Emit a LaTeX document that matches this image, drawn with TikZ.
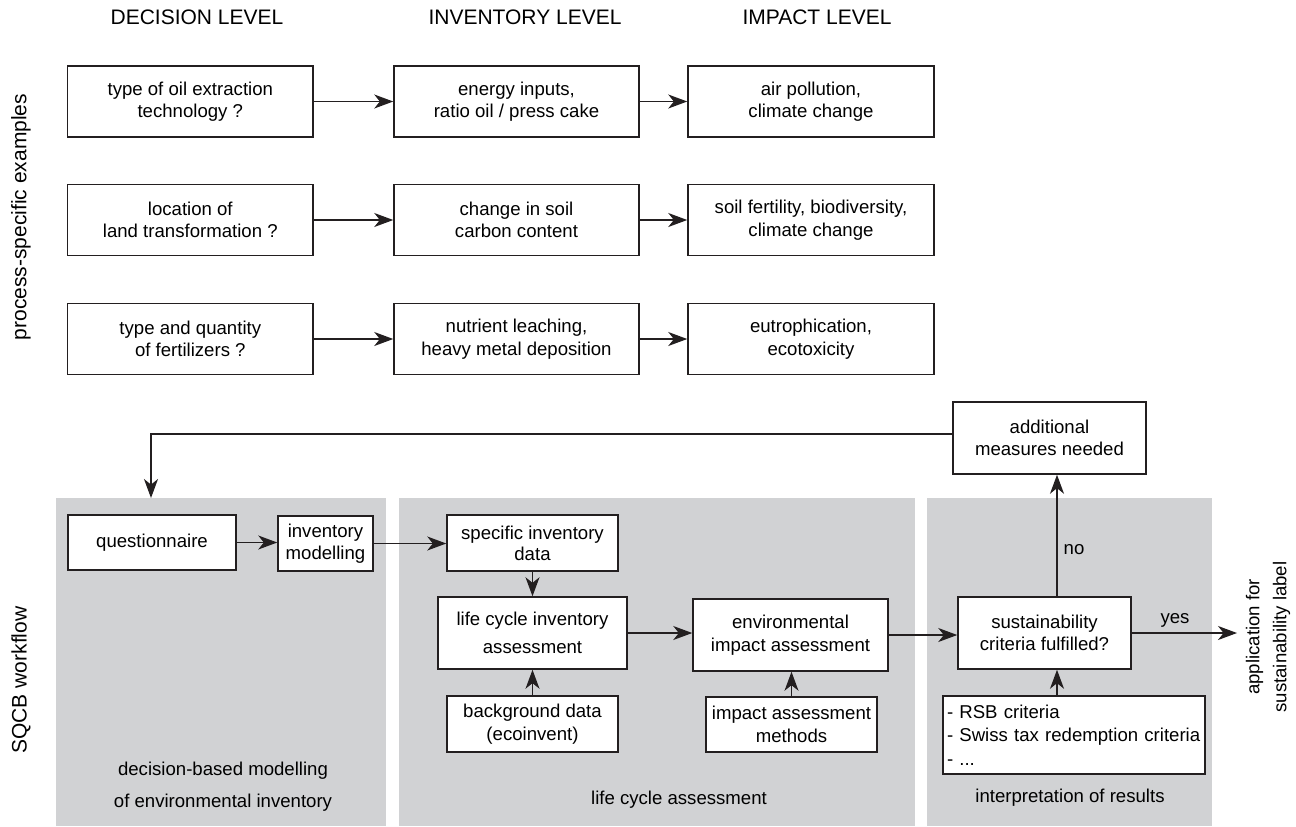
\documentclass[tikz,border=0pt]{standalone}
\usepackage{fontspec}
\setmainfont{Liberation Sans}
\usetikzlibrary{arrows.meta,calc}
\definecolor{panelgray}{RGB}{209,210,212}
\definecolor{ink}{RGB}{35,31,32}
\begin{document}
\begin{tikzpicture}[x=0.5pt,y=-0.5pt,
  box/.style={draw=ink,line width=0.75pt,fill=white,align=center,inner sep=1pt,
    font=\fontsize{9.3}{11.3}\selectfont},
  rowbox/.style={box,minimum height=35.5pt},
  arr/.style={draw=ink,line width=0.65pt,-{Stealth[length=9.5pt,width=7pt,inset=2.8pt]}},
  title/.style={font=\fontsize{10.5}{12.5}\selectfont,inner sep=0pt},
  lbl/.style={font=\fontsize{9.3}{11.3}\selectfont,inner sep=0pt,align=center},
  panel/.style={fill=panelgray,draw=none}]
\useasboundingbox (0,0) rectangle (1296,826);

% panels
\fill[panel] (56,498) rectangle (386,826);
\fill[panel] (399,498) rectangle (915,826);
\fill[panel] (927,498) rectangle (1212,826);

% titles
\node[title] (tdec) at (197,17) {DECISION LEVEL};
\node[title] (tinv) at (525,17) {INVENTORY LEVEL};
\node[title] (timp) at (817,17) {IMPACT LEVEL};
\node[title,rotate=90] (tpse) at (21,217) {process-specific examples};
\node[title,rotate=90] (tsqcb) at (21,680) {SQCB workflow};

% process-specific rows
\node[rowbox,minimum width=122.7pt] (d1) at (190.3,101.5) {type of oil extraction\\technology ?};
\node[rowbox,minimum width=122.5pt] (i1) at (516.5,101.5) {energy inputs,\\ratio oil / press cake};
\node[rowbox,minimum width=123pt] (m1) at (811,101.5) {air pollution,\\climate change};
\node[rowbox,minimum width=122.7pt] (d2) at (190.3,220) {location of\\land transformation ?};
\node[rowbox,minimum width=122.5pt] (i2) at (516.5,220) {change in soil\\carbon content};
\node[rowbox,minimum width=123pt] (m2) at (811,220) {soil fertility, biodiversity,\\climate change};
\node[rowbox,minimum width=122.7pt] (d3) at (190.3,339) {type and quantity\\of fertilizers ?};
\node[rowbox,minimum width=122.5pt] (i3) at (516.5,339) {nutrient leaching,\\heavy metal deposition};
\node[rowbox,minimum width=123pt] (m3) at (811,339) {eutrophication,\\ecotoxicity};
\foreach \r in {1,2,3}{
  \draw[arr] (d\r.east) -- (i\r.west);
  \draw[arr] (i\r.east) -- (m\r.west);
}

% workflow boxes
\node[box,minimum width=84pt,minimum height=27.5pt] (quest) at (152,542.5) {questionnaire};
\node[box,minimum width=47.5pt,minimum height=27.5pt] (invmod) at (325.5,543.5) {inventory\\modelling};
\node[box,minimum width=85.5pt,minimum height=28pt,font=\fontsize{9.3}{10.6}\selectfont] (spec) at (532.5,543) {specific inventory\\data};
\node[box,minimum width=94.5pt,minimum height=36pt,font=\fontsize{9.3}{14}\selectfont] (lci) at (532.5,633) {life cycle inventory\\assessment};
\node[box,minimum width=85.5pt,minimum height=28pt] (bg) at (532.5,724) {background data\\(ecoinvent)};
\node[box,minimum width=97.5pt,minimum height=36pt] (env) at (790.5,635) {environmental\\impact assessment};
\node[box,minimum width=85.5pt,minimum height=27.5pt] (iam) at (791.5,724.5) {impact assessment\\methods};
\node[box,minimum width=86.5pt,minimum height=36pt] (sust) at (1044.5,633) {sustainability\\criteria fulfilled?};
\node[box,minimum width=131pt,minimum height=39pt,align=left,text width=127pt,inner sep=2pt,font=\fontsize{9.3}{11.8}\selectfont] (rsb) at (1074,735) {- RSB criteria\\- Swiss tax redemption criteria\\- ...};
\node[box,minimum width=96.5pt,minimum height=36pt] (add) at (1049.5,438) {additional\\measures needed};

% coordinates
\coordinate (nx) at (1057,0);
\coordinate (fb) at (151,498);
\coordinate (yesend) at (1237,633);

% connectors
\draw[arr] (quest.east) -- (quest.east -| invmod.west);
\draw[arr] (invmod.east) -- (invmod.east -| spec.west);
\draw[arr] (spec.south) -- (spec.south |- lci.north);
\draw[arr] (bg.north) -- (bg.north |- lci.south);
\draw[arr] (lci.east) -- (lci.east -| env.west);
\draw[arr] (iam.north) -- (iam.north |- env.south);
\draw[arr] (env.east) -- (env.east -| sust.west);
\draw[arr] (rsb.north -| nx) -- (sust.south -| nx);
\draw[arr] (sust.north -| nx) -- (add.south -| nx);
\draw[arr] (sust.east) -- (yesend);
\draw[arr] ($(add.west)+(0,-4)$) -| (fb);

% labels
\node[lbl] (lno) at (1074,550) {no};
\node[lbl] (lyes) at (1175,620) {yes};
\node[lbl,rotate=90,font=\fontsize{9.3}{13.5}\selectfont] (lapp) at (1268,637) {application for\\sustainability label};
\node[lbl,font=\fontsize{9.3}{16}\selectfont] (lp1) at (223,787) {decision-based modelling\\of environmental inventory};
\node[lbl] (lp2) at (679,800) {life cycle assessment};
\node[lbl] (lp3) at (1070,798) {interpretation of results};
\end{tikzpicture}
\end{document}
